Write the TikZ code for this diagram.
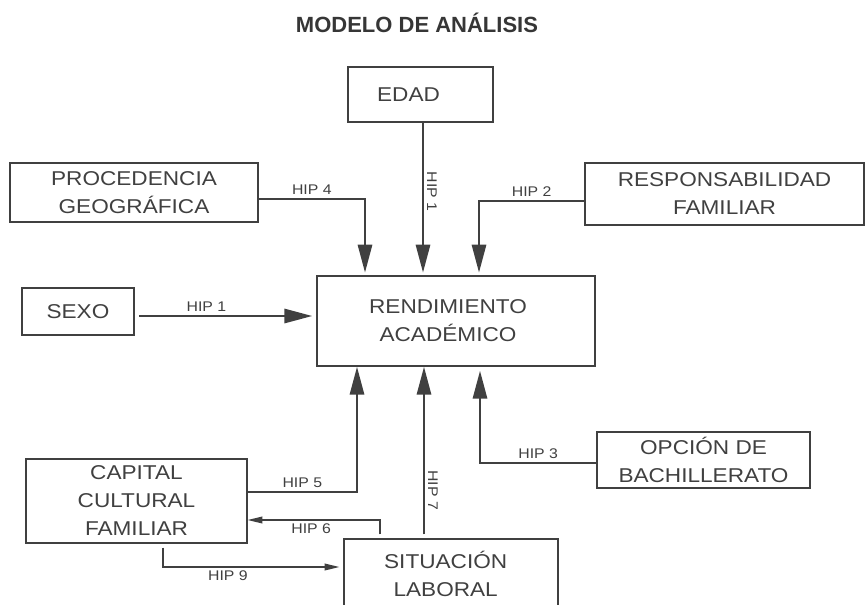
\documentclass[tikz,border=0pt]{standalone}
\usepackage{fontspec}
\setmainfont{Liberation Sans}
\newfontfamily\widefont[FakeStretch=1.13]{Liberation Sans}
\usetikzlibrary{arrows.meta}
\definecolor{ink}{HTML}{404040}

\begin{document}
\begin{tikzpicture}[x=0.75pt, y=-0.75pt,
		box/.style={draw=ink, line width=0.9pt, inner sep=0pt, align=center, text=ink, font=\widefont\fontsize{15}{21}\selectfont},
		bigarr/.style={draw=ink, line width=2.2pt, -{Triangle[length=21pt,width=10.5pt]}},
		smallarr/.style={draw=ink, line width=1pt, -{Triangle[length=11pt,width=5pt]}},
		hip/.style={text=ink, inner sep=2pt, font=\widefont\fontsize{10.5}{12}\selectfont}]
		\useasboundingbox (0,0) rectangle (866,604);
		\node[text=ink!85!black, font=\bfseries\fontsize{16.5}{20}\selectfont] (title) at (417,23) {MODELO DE ANÁLISIS};
		\node[box, minimum width=108.75pt, minimum height=41.25pt] (edad) at (420.5,94.5) {EDAD\hspace*{18pt}};
		\node[box, minimum width=186pt, minimum height=44.25pt] (proc) at (134,192.5) {PROCEDENCIA\\GEOGRÁFICA};
		\node[box, minimum width=209.25pt, minimum height=46.5pt] (resp) at (724.5,194) {RESPONSABILIDAD\\FAMILIAR};
		\node[box, minimum width=84pt, minimum height=35.25pt] (sexo) at (78,311.5) {SEXO};
		\node[box, minimum width=208.5pt, minimum height=67.5pt] (rend) at (456,321) {RENDIMIENTO\hspace*{12pt}\\ACADÉMICO\hspace*{12pt}};
		\node[box, minimum width=159.75pt, minimum height=42pt] (opcion) at (703.5,460) {OPCIÓN DE\\BACHILLERATO};
		\node[box, minimum width=165.75pt, minimum height=63pt] (capital) at (136.5,501) {CAPITAL\\CULTURAL\\FAMILIAR};
		\node[box, minimum width=160.5pt, minimum height=52.5pt] (sit) at (451,574) {SITUACIÓN\hspace*{8pt}\\LABORAL\hspace*{8pt}};
		\coordinate (ce) at (423,0);
		\coordinate (c1) at (139,316);
		\coordinate (c2) at (479,201);
		\coordinate (c3) at (480,463);
		\coordinate (c4) at (365,199);
		\coordinate (c5) at (357,492);
		\coordinate (c6) at (380,520);
		\coordinate (c7) at (424,0);
		\coordinate (c9) at (163,567);
		\draw[bigarr, shorten >=2pt] (edad.south -| ce) -- node[hip, pos=0.45, anchor=south, rotate=-90]{HIP 1} (rend.north -| ce);
		\draw[bigarr, shorten >=2pt] (proc.east |- c4) -| node[hip, pos=0.25, above]{HIP 4} (rend.north -| c4);
		\draw[bigarr, shorten >=2pt] (resp.west |- c2) -| node[hip, pos=0.25, above]{HIP 2} (rend.north -| c2);
		\draw[bigarr, shorten >=3pt] (c1) -- node[hip, pos=0.38, above]{HIP 1} (rend.west |- c1);
		\draw[bigarr] (capital.east |- c5) -| node[hip, pos=0.25, above]{HIP 5} (rend.south -| c5);
		\draw[bigarr, shorten <=3pt] (sit.north -| c7) -- node[hip, pos=0.28, anchor=south, rotate=-90]{HIP 7} (rend.south -| c7);
		\draw[bigarr, shorten >=3pt] (opcion.west |- c3) -| node[hip, pos=0.25, above]{HIP 3} (rend.south -| c3);
		\draw[smallarr, shorten <=3pt] (sit.north -| c6) |- node[hip, pos=0.76, below]{HIP 6} (capital.east |- c6);
		\draw[smallarr, shorten <=3pt, shorten >=3pt] (capital.south -| c9) |- node[hip, pos=0.68, below]{HIP 9} (sit.west |- c9);
\end{tikzpicture}
\end{document}
